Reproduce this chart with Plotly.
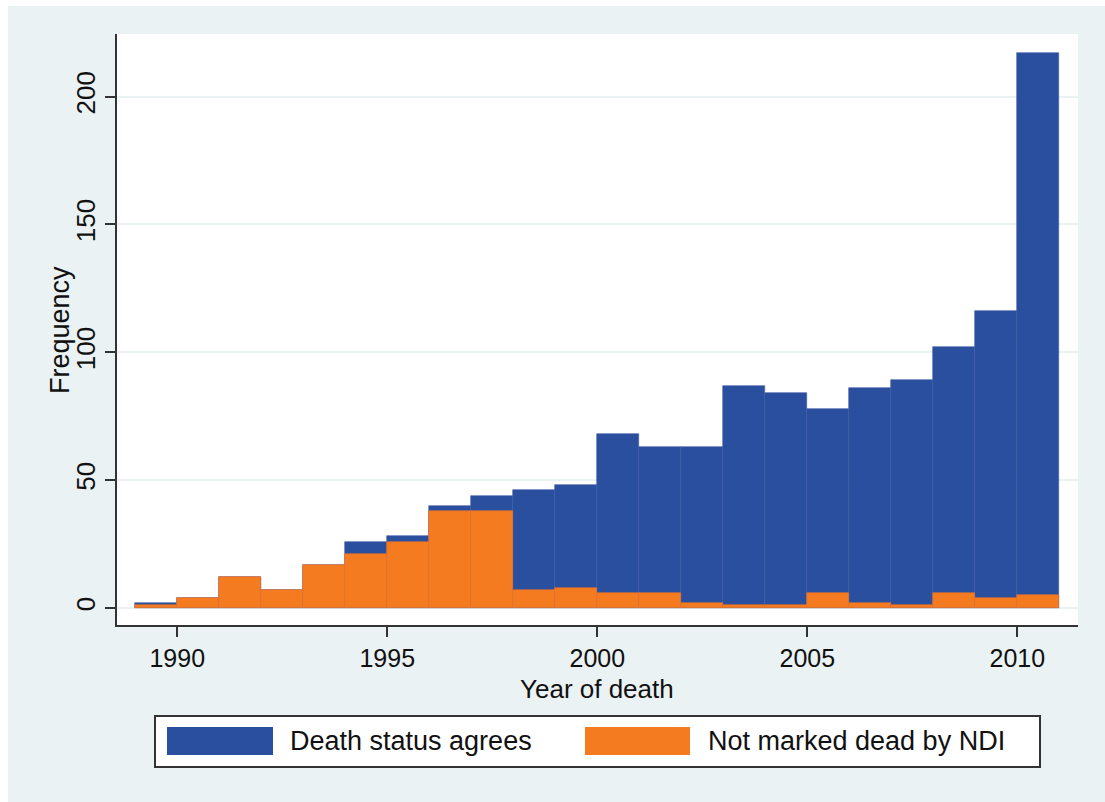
import plotly.graph_objects as go

# Year bins (left edges), one-year width
years = list(range(1989, 2011))
# Total deaths per year where death status agrees (full bar height)
agrees = [2, 4, 12, 7, 17, 26, 28, 40, 44, 46, 48, 68, 63, 63, 87, 84, 78, 86, 89, 102, 116, 217]
# Deaths not marked dead by NDI (overlaid)
not_marked = [1, 4, 12, 7, 17, 21, 26, 38, 38, 7, 8, 6, 6, 2, 1, 1, 6, 2, 1, 6, 4, 5]

x_ticks = [1990, 1995, 2000, 2005, 2010]
y_ticks = [0, 50, 100, 150, 200]

BLUE = "#2B4F9F"
ORANGE = "#F47B20"
BG = "#EAF2F3"
FONT = "Liberation Sans, Arial, sans-serif"

W, H = 1105, 802
ML, MR, MT, MB = 117, 27, 34, 177
PW, PH = W - ML - MR, H - MT - MB


def px_x(p):
    return (p - ML) / PW


def px_y(p):
    return (H - MB - p) / PH


centers = [y + 0.5 for y in years]

fig = go.Figure()
fig.add_trace(go.Bar(
    x=centers, y=agrees, width=1.0, name="Death status agrees",
    marker=dict(color=BLUE, line=dict(color="#3A58A6", width=0.6)),
    showlegend=False,
))
fig.add_trace(go.Bar(
    x=centers, y=not_marked, width=1.0, name="Not marked dead by NDI",
    marker=dict(color=ORANGE, line=dict(color="#E9712A", width=0.6)),
    showlegend=False,
))

shapes = [
    # white strips at the top and left edges of the page
    dict(type="rect", xref="paper", yref="paper",
         x0=px_x(0), x1=px_x(W), y0=px_y(6), y1=px_y(0),
         fillcolor="white", line=dict(width=0)),
    dict(type="rect", xref="paper", yref="paper",
         x0=px_x(0), x1=px_x(8), y0=px_y(H), y1=px_y(0),
         fillcolor="white", line=dict(width=0)),
    # legend box and keys
    dict(type="rect", xref="paper", yref="paper",
         x0=px_x(155), x1=px_x(1040), y0=px_y(767), y1=px_y(716),
         fillcolor="white", line=dict(color="#333333", width=2)),
    dict(type="rect", xref="paper", yref="paper",
         x0=px_x(167), x1=px_x(273), y0=px_y(755), y1=px_y(727),
         fillcolor=BLUE, line=dict(width=0)),
    dict(type="rect", xref="paper", yref="paper",
         x0=px_x(585), x1=px_x(690), y0=px_y(755), y1=px_y(727),
         fillcolor=ORANGE, line=dict(width=0)),
]

annotations = [
    dict(text="Death status agrees", xref="paper", yref="paper",
         x=px_x(288), y=px_y(741), xanchor="left", yanchor="middle",
         showarrow=False, font=dict(size=27, color="#111111", family=FONT)),
    dict(text="Not marked dead by NDI", xref="paper", yref="paper",
         x=px_x(706), y=px_y(741), xanchor="left", yanchor="middle",
         showarrow=False, font=dict(size=27, color="#111111", family=FONT)),
    dict(text="Year of death", xref="paper", yref="paper",
         x=px_x(597), y=px_y(689), xanchor="center", yanchor="middle",
         showarrow=False, font=dict(size=26, color="#111111", family=FONT)),
    dict(text="Frequency", xref="paper", yref="paper",
         x=px_x(60), y=px_y(330), xanchor="center", yanchor="middle",
         textangle=-90, showarrow=False,
         font=dict(size=27, color="#111111", family=FONT)),
]

fig.update_layout(
    width=W, height=H,
    margin=dict(l=ML, r=MR, t=MT, b=MB, pad=0),
    paper_bgcolor=BG, plot_bgcolor="white",
    barmode="overlay", bargap=0,
    font=dict(family=FONT, size=25, color="#111111"),
    shapes=shapes, annotations=annotations,
    xaxis=dict(
        range=[1988.565, 2011.445], tickmode="array", tickvals=x_ticks,
        ticktext=[str(t) for t in x_ticks],
        ticks="outside", ticklen=10, tickwidth=1.5, tickcolor="#333333",
        showline=True, linecolor="#333333", linewidth=2,
        showgrid=False, zeroline=False, tickfont=dict(size=25),
    ),
    yaxis=dict(
        range=[-6.65, 224.5], tickmode="array", tickvals=y_ticks,
        ticktext=[str(t) for t in y_ticks], tickangle=-90,
        ticks="outside", ticklen=10, tickwidth=1.5, tickcolor="#333333",
        showline=True, linecolor="#333333", linewidth=2,
        showgrid=True, gridcolor=BG, gridwidth=1.5, zeroline=False,
        tickfont=dict(size=26),
    ),
)

fig.write_html("out.html")
